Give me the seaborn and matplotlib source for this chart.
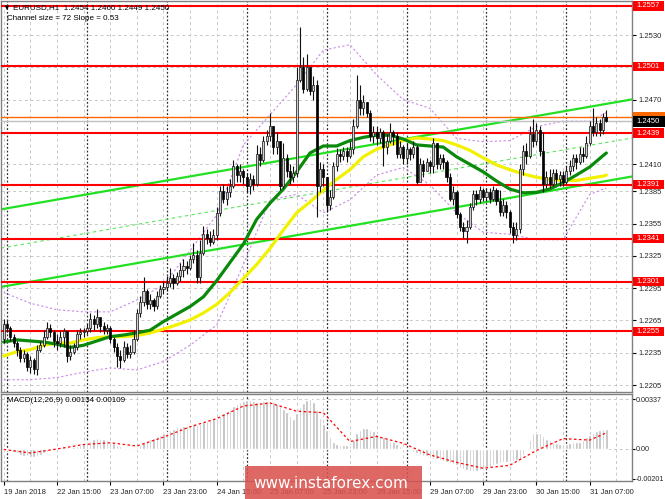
import matplotlib
matplotlib.use("Agg")
import numpy as np
import pandas as pd
import matplotlib.pyplot as plt
import seaborn as sns
from matplotlib.patches import Rectangle
from matplotlib.transforms import blended_transform_factory

# prix en pips (2262 -> 1.2262), bougies H1 du 19 Jan 23:00 au 31 Jan 13:00
first_open = 2248
closes = [2262, 2258, 2250, 2244, 2238, 2230, 2234, 2222,
          2228, 2220, 2238, 2242, 2250, 2258, 2254, 2246,
          2244, 2250, 2255, 2232, 2236, 2240, 2252, 2254,
          2255, 2258, 2266, 2262, 2268, 2260, 2256, 2258,
          2248, 2240, 2232, 2228, 2240, 2234, 2236, 2248,
          2272, 2282, 2292, 2280, 2284, 2278, 2288, 2294,
          2296, 2300, 2304, 2300, 2306, 2312, 2316, 2314,
          2322, 2326, 2305, 2328, 2345, 2342, 2338, 2344,
          2365, 2385, 2378, 2384, 2390, 2408, 2400, 2404,
          2398, 2390, 2396, 2392, 2420, 2414, 2432, 2436,
          2446, 2426, 2432, 2390, 2416, 2404, 2398, 2402,
          2488, 2500, 2480, 2500, 2478, 2484, 2390, 2406,
          2398, 2372, 2380, 2408, 2420, 2418, 2422, 2418,
          2424, 2446, 2470, 2462, 2468, 2458, 2436, 2440,
          2434, 2440, 2426, 2432, 2440, 2436, 2420, 2426,
          2416, 2424, 2420, 2426, 2394, 2410, 2404, 2412,
          2408, 2430, 2410, 2416, 2412, 2398, 2378, 2384,
          2364, 2352, 2348, 2352, 2370, 2382, 2378, 2386,
          2380, 2384, 2378, 2386, 2376, 2366, 2372, 2366,
          2352, 2344, 2350, 2406, 2422, 2418, 2438, 2432,
          2442, 2422, 2392, 2398, 2392, 2402, 2396, 2400,
          2394, 2404, 2408, 2416, 2412, 2420, 2418, 2430,
          2446, 2440, 2448, 2442, 2454, 2450]
highs = [2266, 2265, 2260, 2252, 2246, 2240, 2238, 2236,
         2232, 2230, 2242, 2246, 2256, 2264, 2262, 2256,
         2252, 2255, 2258, 2250, 2242, 2244, 2256, 2258,
         2258, 2262, 2272, 2270, 2276, 2266, 2264, 2262,
         2260, 2250, 2244, 2238, 2246, 2244, 2242, 2256,
         2276, 2288, 2305, 2294, 2290, 2286, 2292, 2298,
         2302, 2306, 2314, 2308, 2310, 2318, 2322, 2320,
         2326, 2337, 2330, 2340, 2353, 2350, 2348, 2350,
         2370, 2390, 2392, 2390, 2396, 2414, 2410, 2410,
         2406, 2402, 2402, 2400, 2428, 2426, 2436, 2442,
         2458, 2446, 2440, 2432, 2430, 2420, 2410, 2408,
         2500, 2537, 2510, 2512, 2500, 2492, 2488, 2412,
         2410, 2398, 2386, 2412, 2425, 2424, 2426, 2426,
         2432, 2452, 2493, 2484, 2474, 2468, 2460, 2446,
         2446, 2444, 2442, 2438, 2448, 2442, 2440, 2432,
         2428, 2430, 2426, 2432, 2428, 2416, 2414, 2416,
         2414, 2434, 2430, 2420, 2420, 2414, 2402, 2390,
         2386, 2366, 2356, 2358, 2374, 2386, 2386, 2390,
         2388, 2388, 2388, 2390, 2388, 2386, 2378, 2376,
         2368, 2356, 2356, 2410, 2428, 2430, 2446, 2452,
         2448, 2446, 2440, 2404, 2406, 2406, 2406, 2404,
         2404, 2408, 2414, 2420, 2420, 2426, 2426, 2436,
         2450, 2462, 2454, 2452, 2458, 2460]
lows = [2244, 2254, 2246, 2240, 2232, 2226, 2226, 2218,
        2216, 2215, 2214, 2236, 2240, 2248, 2250, 2240,
        2238, 2240, 2240, 2226, 2228, 2234, 2238, 2248,
        2250, 2252, 2254, 2256, 2258, 2254, 2252, 2252,
        2244, 2236, 2222, 2221, 2226, 2230, 2230, 2234,
        2246, 2268, 2278, 2276, 2276, 2274, 2276, 2286,
        2290, 2292, 2296, 2294, 2298, 2302, 2305, 2308,
        2312, 2318, 2300, 2300, 2326, 2336, 2334, 2336,
        2340, 2362, 2374, 2372, 2380, 2388, 2394, 2394,
        2392, 2384, 2382, 2386, 2390, 2408, 2412, 2428,
        2432, 2420, 2420, 2386, 2388, 2398, 2392, 2394,
        2398, 2486, 2476, 2478, 2474, 2470, 2361, 2384,
        2390, 2366, 2368, 2378, 2404, 2412, 2414, 2412,
        2416, 2420, 2444, 2456, 2456, 2454, 2432, 2430,
        2428, 2430, 2408, 2420, 2430, 2428, 2416, 2416,
        2410, 2410, 2414, 2416, 2392, 2396, 2398, 2404,
        2402, 2402, 2406, 2406, 2406, 2394, 2376, 2372,
        2360, 2348, 2342, 2337, 2350, 2368, 2372, 2374,
        2376, 2376, 2374, 2376, 2372, 2362, 2362, 2360,
        2346, 2337, 2340, 2346, 2400, 2410, 2416, 2426,
        2428, 2418, 2384, 2388, 2388, 2390, 2392, 2390,
        2390, 2392, 2400, 2404, 2406, 2410, 2412, 2416,
        2428, 2436, 2436, 2436, 2438, 2449]

# moyennes mobiles relevées toutes les 4 bougies (+ la dernière)
ma_green = [2245, 2247, 2246, 2245, 2243, 2240, 2242, 2246, 2250, 2251.5,
            2253.5, 2256, 2264, 2271, 2278, 2287, 2302, 2319, 2336, 2359,
            2374, 2387, 2403, 2420.5, 2427, 2427, 2432, 2435, 2437, 2437,
            2433.5, 2428, 2427, 2426, 2417, 2410, 2403, 2394.5, 2387, 2383.5,
            2384, 2387, 2393, 2400, 2407.5, 2418, 2420.5]
ma_yellow = [2232, 2236, 2238, 2242, 2244, 2244, 2247, 2249, 2250, 2250,
             2251, 2253.5, 2257, 2261, 2265.5, 2272, 2280, 2291, 2304, 2317,
             2332, 2349, 2365, 2375, 2386, 2396, 2405, 2417, 2424, 2428,
             2432, 2434.5, 2433.5, 2432, 2428, 2423, 2416, 2409.5, 2405, 2401,
             2398, 2396, 2395, 2395, 2397, 2399, 2400]
# enveloppes relevées toutes les 8 bougies (+ la dernière)
band_upper = [2291, 2281, 2275, 2273, 2273, 2284, 2298, 2330, 2363, 2428, 2456, 2484,
              2516, 2521, 2493, 2470, 2462, 2434, 2431, 2432, 2445, 2450, 2450, 2458]
band_lower = [2210, 2210, 2212, 2217, 2221, 2219, 2227, 2242, 2261, 2317, 2377, 2382,
              2365, 2377, 2400, 2407, 2391, 2365, 2347, 2345, 2340, 2340, 2382, 2388]

# MACD (unités de 1e-5)
macd_hist = [-5, -10, -15, -20, -30, -40, -45, -50,
             -55, -55, -50, -40, -30, -20, -10, 0,
             5, 10, 15, 15, 10, 15, 20, 25,
             35, 45, 55, 65, 72, 70, 65, 60,
             50, 40, 30, 20, 10, 5, -5, 0,
             15, 30, 45, 55, 65, 75, 85, 95,
             105, 115, 125, 135, 145, 150, 155, 160,
             165, 170, 165, 170, 180, 190, 195, 200,
             210, 225, 240, 255, 270, 290, 305, 315,
             325, 330, 330, 325, 320, 320, 325, 325,
             325, 315, 305, 290, 270, 250, 225, 200,
             240, 280, 310, 330, 335, 320, 260, 210,
             170, 130, 80, 45, 35, 30, 30, 25,
             30, 60, 110, 130, 140, 140, 130, 120,
             100, 90, 80, 70, 55, 45, 35, 20,
             10, 5, -10, -20, -30, -40, -45, -50,
             -60, -65, -70, -75, -80, -85, -95, -100,
             -110, -125, -135, -140, -150, -150, -150, -145,
             -140, -130, -120, -110, -100, -95, -90, -85,
             -85, -80, -75, -70, -40, 10, 60, 105,
             110, 105, 85, 70, 60, 50, 40, 35,
             35, 35, 40, 45, 45, 50, 60, 80,
             95, 110, 120, 125, 135, 134]
macd_signal = [-3, -27, 0, 30, 42, 20, 80, 150, 205, 290, 310, 255,
               245, 50, 85, 38, -40, -90, -130, -110, -10, 70, 60, 109]

# canal de régression (bougie 0 et dernière bougie)
channel_lower = [2296.6, 2394.5]
channel_mid = [2332.6, 2430.3]
channel_upper = [2368.6, 2466.1]

levels = [1.2557, 1.2501, 1.2439, 1.2391, 1.2341, 1.2301, 1.2255]
price_ticks = [1.2530, 1.2500, 1.2470, 1.2440, 1.2410, 1.2385, 1.2355,
               1.2325, 1.2295, 1.2265, 1.2235, 1.2205]
hidden_ticks = [1.2500, 1.2440]   # masqués par les étiquettes rouges
bid_price = 1.2450
orange_price = 1.2454
time_labels = ["19 Jan 2018", "22 Jan 15:00", "23 Jan 07:00", "23 Jan 23:00",
               "24 Jan 15:00", "25 Jan 07:00", "25 Jan 23:00", "26 Jan 15:00",
               "29 Jan 07:00", "29 Jan 23:00", "30 Jan 15:00", "31 Jan 07:00"]
macd_ticks = [0.00337, 0.0, -0.00201]


def to_price(v):
    return 1 + np.asarray(v, dtype=float) / 10000


n = len(closes)
df = pd.DataFrame({
    "open": to_price([first_open] + closes[:-1]),
    "high": to_price(highs),
    "low": to_price(lows),
    "close": to_price(closes),
})
ma_idx = list(range(0, n - 1, 4)) + [n - 1]
band_idx = list(range(0, n - 1, 8)) + [n - 1]

W, H = 665, 499
sns.set_style("white")
plt.rcParams["font.family"] = ["Liberation Sans", "DejaVu Sans"]

fig = plt.figure(figsize=(W / 100, H / 100), dpi=100)


def px_box(x0, y0, x1, y1):
    return [x0 / W, 1 - y1 / H, (x1 - x0) / W, (y1 - y0) / H]


ax = fig.add_axes(px_box(1, 1, 632, 392))
axm = fig.add_axes(px_box(1, 394, 632, 481))
xmax = 188.7
for a in (ax, axm):
    a.set_xlim(-0.8, xmax)
    for s in a.spines.values():
        s.set_color("#808080")
        s.set_linewidth(1.0)
    # grille et séparateurs de jours
    for g in range(0, int(xmax) + 1, 8):
        a.axvline(g, color="#c8c8c8", lw=0.7, ls=(0, (3, 3)), zorder=0)
    for d in range(1, int(xmax) + 1, 24):
        a.axvline(d, color="#303030", lw=0.9, ls=(0, (1.5, 1.5)), zorder=0.5)

ax.set_ylim(1.21986, 1.25616)
for t in price_ticks:
    ax.axhline(t, color="#c8c8c8", lw=0.7, ls=(0, (3, 3)), zorder=0)

# canal
ax.axline((0, to_price(channel_upper[0])), (n - 1, to_price(channel_upper[1])),
          color="#22e022", lw=1.6, zorder=2)
ax.axline((0, to_price(channel_lower[0])), (n - 1, to_price(channel_lower[1])),
          color="#22e022", lw=1.6, zorder=2)
ax.axline((0, to_price(channel_mid[0])), (n - 1, to_price(channel_mid[1])),
          color="#55e855", lw=0.8, ls=(0, (3, 3)), zorder=2)

# niveaux
for lv in levels:
    ax.axhline(lv, color="#ff0000", lw=1.5, zorder=3)
ax.axhline(orange_price, color="#ff6a00", lw=1.0, zorder=3)
ax.axhline(bid_price, color="#c0c0c0", lw=1.0, zorder=3)

# enveloppes et moyennes
sns.lineplot(x=band_idx, y=to_price(band_upper), ax=ax, color="#c98be8", lw=0.8,
             linestyle=(0, (2, 2)), zorder=2)
sns.lineplot(x=band_idx, y=to_price(band_lower), ax=ax, color="#c98be8", lw=0.8,
             linestyle=(0, (2, 2)), zorder=2)
sns.lineplot(x=ma_idx, y=to_price(ma_yellow), ax=ax, color="#f2f200", lw=2.3, zorder=4)
sns.lineplot(x=ma_idx, y=to_price(ma_green), ax=ax, color="#0a8a0a", lw=2.3, zorder=4)

# bougies
idx = np.arange(n)
ax.vlines(idx, df["low"], df["high"], color="#111111", lw=0.8, zorder=5)
up = df["close"] >= df["open"]
body_lo = np.minimum(df["open"], df["close"])
body_h = np.maximum(np.abs(df["close"] - df["open"]), 0.00008)
ax.bar(idx[up], body_h[up], bottom=body_lo[up], width=0.62, color="#cfcfcf",
       edgecolor="#111111", linewidth=0.5, zorder=6)
ax.bar(idx[~up], body_h[~up], bottom=body_lo[~up], width=0.62, color="#000000",
       edgecolor="#000000", linewidth=0.5, zorder=6)

ax.set_xlabel("")
ax.set_ylabel("")
ax.set_xticks([])
ax.yaxis.tick_right()
ax.set_yticks(price_ticks)
ax.set_yticklabels(["" if t in hidden_ticks else f"{t:.4f}" for t in price_ticks])
ax.tick_params(axis="y", labelsize=5.5, length=3, pad=2, color="#000000",
               direction="out", right=True, left=False)

# étiquettes de droite
btr = blended_transform_factory(ax.transAxes, ax.transData)
box_h = 0.00085
for lv in levels:
    ax.add_patch(Rectangle((1 + 1 / 631, lv - box_h / 2), 31 / 631, box_h,
                           transform=btr, facecolor="#ff0000", edgecolor="none",
                           clip_on=False, zorder=10))
    ax.text(1 + 4 / 631, lv, f"{lv:.4f}", transform=btr, color="white",
            fontsize=5.5, va="center", ha="left", zorder=11, clip_on=False)
ax.add_patch(Rectangle((1 + 1 / 631, orange_price - box_h / 2), 32 / 631, box_h,
                       transform=btr, facecolor="#ff6a00", edgecolor="none",
                       clip_on=False, zorder=10))
ax.add_patch(Rectangle((1 + 1 / 631, bid_price - 0.0005), 32 / 631, 0.001,
                       transform=btr, facecolor="#000000", edgecolor="none",
                       clip_on=False, zorder=12))
ax.text(1 + 4 / 631, bid_price, f"{bid_price:.4f}", transform=btr, color="white",
        fontsize=5.5, va="center", ha="left", zorder=13, clip_on=False)

# MACD
macd_vals = np.asarray(macd_hist) / 1e5
axm.set_ylim(-0.00216, 0.00371)
axm.axhline(0, color="#c8c8c8", lw=0.7, ls=(0, (3, 3)), zorder=0)
axm.axhline(macd_ticks[0], color="#c8c8c8", lw=0.7, ls=(0, (3, 3)), zorder=0)
axm.bar(idx, macd_vals, width=0.75, color="#bdbdbd", zorder=2)
sns.lineplot(x=band_idx, y=np.asarray(macd_signal) / 1e5, ax=axm, color="#ff0000",
             lw=0.9, linestyle=(0, (2, 2)), zorder=3)
axm.set_xlabel("")
axm.set_ylabel("")
axm.yaxis.tick_right()
axm.set_yticks(macd_ticks)
axm.set_yticklabels(["0.00337", "0.00", "-0.00201"])
axm.tick_params(axis="y", labelsize=5.2, length=2, pad=1, color="#000000",
                right=True, left=False)
axm.set_xticks(range(0, n, 16))
axm.set_xticklabels(time_labels, ha="left")
axm.tick_params(axis="x", labelsize=5.5, length=3, pad=3, color="#000000",
                bottom=True)

# textes
last = df.iloc[-1]
fig.text(3 / W, 1 - 7.5 / H,
         f"\u25bc EURUSD,H1  {last['open']:.4f} {last['high']:.4f} "
         f"{last['low']:.4f} {last['close']:.4f}",
         fontsize=5.8, va="center", ha="left", color="#000000")
fig.text(7 / W, 1 - 18 / H, "Channel size = 72 Slope = 0.53", fontsize=5.8,
         va="center", ha="left", color="#000000")
fig.text(7 / W, 1 - 401 / H,
         f"MACD(12,26,9) {macd_hist[-1] / 1e5:.5f} {macd_signal[-1] / 1e5:.5f}",
         fontsize=5.8, va="center", ha="left", color="#000000")

# filigrane
fig.add_artist(Rectangle((245 / W, 0), 177 / W, 33 / H, transform=fig.transFigure,
                         facecolor="#d9534f", edgecolor="none", alpha=0.88, zorder=20))
fig.text(331 / W, 1 - 484 / H, "www.instaforex.com", fontsize=11, color="white",
         family="DejaVu Sans", ha="center", va="center", zorder=21)

fig.savefig("out.png", dpi=100)
